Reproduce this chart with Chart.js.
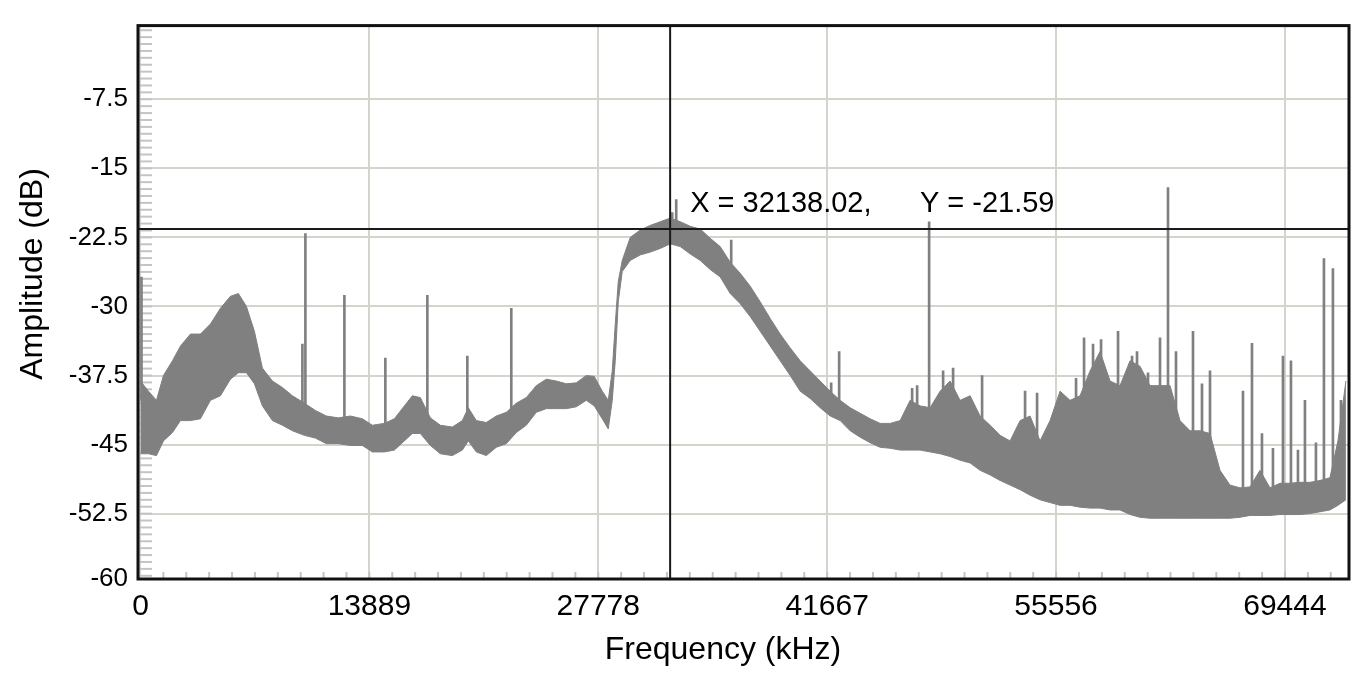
<!DOCTYPE html>
<html>
<head>
<meta charset="utf-8">
<script src="https://cdn.jsdelivr.net/npm/chart.js@4.4.1/dist/chart.umd.min.js"></script>
<style>
html,body{margin:0;padding:0;background:#fff;}
canvas{display:block;}
</style>
</head>
<body>
<canvas id="espectro" width="1372" height="678"></canvas>
<script>
// envelope of the noise band (kHz, dB)
const freq=[0,485,970,1395,1941,2426,3033,3639,4246,4852,5459,5944,6429,6914,7399,8006,8612,9219,9947,10614,
11281,12009,12736,13464,14071,14799,15405,16012,16497,16982,17589,18195,18923,19529,19893,20378,20985,21591,22198,22804,
23411,24017,24624,25230,25837,26443,27050,27535,28020,28384,28627,28809,28991,29233,29719,30325,30932,31538,32145,32751,
33358,33964,34571,35177,35784,36390,36997,37603,38210,38816,39423,40029,40636,41242,41849,42455,43062,43668,44275,44881,
45488,46094,46701,47307,47914,48520,49127,49733,50340,50946,51553,52159,52766,53372,53979,54585,55192,55798,56405,57011,
57618,58224,58831,59437,60044,60650,61257,61863,62470,63076,63683,64289,64896,65502,66109,66715,67322,67928,68535,69141,
69748,70354,70961,71567,72174,72659,73144];

const bandTop=[-38.1,-39.2,-40.2,-37.5,-35.9,-34.3,-33.0,-33.0,-31.9,-30.2,
-28.9,-28.6,-30.0,-32.7,-36.7,-38.1,-38.8,-39.7,-40.5,-41.3,
-41.9,-42.1,-41.9,-42.2,-42.9,-42.7,-42.2,-40.8,-39.7,-39.9,
-42.1,-42.9,-43.1,-42.4,-41.0,-42.4,-42.6,-41.9,-41.5,-40.5,
-39.9,-38.6,-37.9,-38.1,-38.4,-38.3,-37.5,-37.6,-39.2,-40.2,
-37.0,-31.9,-27.3,-25.0,-22.5,-21.7,-21.2,-20.8,-20.4,-20.8,
-21.3,-21.6,-22.6,-23.5,-25.2,-26.4,-27.8,-29.5,-31.3,-33.0,
-34.5,-35.9,-37.0,-38.1,-39.2,-40.2,-41.0,-41.6,-42.2,-42.7,
-42.7,-42.4,-40.2,-40.8,-41.0,-39.2,-38.1,-40.2,-39.7,-41.9,
-42.9,-44.0,-44.6,-42.4,-41.9,-44.6,-42.4,-39.2,-40.2,-39.7,
-37.0,-34.9,-38.1,-38.6,-35.9,-36.5,-38.6,-38.6,-38.6,-42.4,
-43.5,-43.5,-43.8,-47.8,-49.4,-49.7,-49.6,-47.8,-49.7,-49.2,
-49.2,-49.1,-49.1,-48.9,-48.6,-44.6,-38.1];

const bandBottom=[-46.0,-46.0,-46.2,-44.6,-43.7,-42.4,-42.4,-42.2,-40.2,-39.7,
-37.9,-37.2,-37.2,-38.4,-40.8,-42.4,-42.9,-43.5,-44.0,-44.3,
-44.9,-44.9,-45.1,-45.1,-45.8,-45.8,-45.6,-44.6,-43.8,-43.8,
-45.1,-46.0,-46.2,-45.6,-44.6,-45.8,-46.2,-45.3,-44.9,-43.7,
-42.9,-41.5,-41.1,-41.1,-41.1,-40.9,-40.2,-40.8,-42.2,-43.3,
-40.2,-35.9,-29.5,-26.2,-25.0,-24.4,-24.1,-23.7,-23.2,-23.5,
-24.3,-25.0,-26.0,-26.8,-28.6,-29.7,-31.1,-32.7,-34.3,-35.9,
-37.5,-39.2,-40.0,-41.0,-41.9,-42.4,-43.5,-44.2,-44.8,-45.3,
-45.4,-45.6,-45.6,-45.6,-45.8,-46.0,-46.3,-46.7,-47.0,-47.8,
-48.3,-48.9,-49.4,-49.9,-50.5,-51.0,-51.3,-51.6,-51.6,-51.8,
-51.9,-51.9,-52.1,-52.1,-52.6,-52.9,-53.0,-53.0,-53.0,-53.0,
-53.0,-53.0,-53.0,-53.0,-53.0,-52.9,-52.7,-52.7,-52.7,-52.6,
-52.6,-52.6,-52.5,-52.3,-52.1,-51.6,-51.0];

// narrow tones sticking out of the band
const spikeFreq=[61,9825,10007,12373,14859,17407,19833,22501,32266,32508,35844,41909,42394,46822,47125,47853,
48702,49308,51067,53675,54403,54888,56768,57254,57799,58285,59316,60165,60468,61135,61863,62348,
62833,63864,64410,64896,66897,67443,68049,68716,69323,69808,70233,70657,71324,71810,72355,72841];
const spikeTop=[-26.8,-34.1,-22.1,-28.8,-35.6,-28.8,-35.4,-30.2,-19.8,-18.4,-22.8,-38.3,-34.9,-38.9,-38.6,-20.8,
-37.0,-36.7,-37.5,-39.2,-39.4,-44.6,-37.8,-33.4,-34.1,-33.6,-32.7,-35.4,-34.9,-37.2,-33.4,-17.1,
-34.9,-32.7,-38.4,-37.0,-39.2,-34.0,-43.8,-45.4,-35.4,-35.9,-45.6,-40.2,-44.8,-24.8,-25.9,-40.2];
const spikeBase=[-40.2,-41.3,-41.3,-43.5,-44.0,-42.9,-42.4,-42.9,-21.9,-21.9,-26.2,-40.8,-41.3,-43.5,-43.5,-43.5,
-43.5,-43.5,-44.6,-47.8,-47.8,-48.9,-47.8,-47.8,-47.8,-47.8,-47.8,-47.8,-47.8,-47.8,-47.8,-47.8,
-47.8,-47.8,-48.9,-48.9,-51.0,-51.0,-51.0,-51.0,-51.0,-51.0,-51.0,-51.0,-51.0,-51.0,-51.0,-51.0];

const xTicks=[0,13889,27778,41667,55556,69444];
const yTicks=[-60,-52.5,-45,-37.5,-30,-22.5,-15,-7.5];
const xMin=-150, xMax=73330;
const yMin=-59.6, yMax=0.5;

const cursorX=32138.02;
const cursorY=-21.59;

const tituloX="Frequency (kHz)";
const tituloY="Amplitude (dB)";

const cinza="#808080";
const corGrade="#d6d3cc";
const fonte="'Liberation Sans', Arial, sans-serif";

Chart.defaults.color="#000";

const extras={
id:"extras",
beforeDatasetsDraw(chart){
const {ctx,chartArea:a,scales:{x,y}}=chart;
ctx.save();
ctx.strokeStyle="#c4c4c4";
ctx.lineWidth=2;
// minor ticks, ten per major division
const passoX=(xTicks[1]-xTicks[0])/10;
for(let v=xTicks[0];v<=xMax;v+=passoX){
let px=x.getPixelForValue(v);
if(px<a.left+3||px>a.right-3)continue;
ctx.beginPath();
ctx.moveTo(px,a.bottom);
ctx.lineTo(px,a.bottom-7);
ctx.stroke();
}
const passoY=(yTicks[2]-yTicks[1])/10;
for(let v=yTicks[0];v<=yMax;v+=passoY){
let py=y.getPixelForValue(v);
if(py<a.top+3||py>a.bottom-3)continue;
ctx.beginPath();
ctx.moveTo(a.left,py);
ctx.lineTo(a.left+14,py);
ctx.stroke();
}
ctx.restore();
},
afterDatasetsDraw(chart){
const {ctx,chartArea:a,scales:{x,y}}=chart;
const cx=x.getPixelForValue(cursorX);
const cy=y.getPixelForValue(cursorY);
ctx.save();
ctx.strokeStyle="#1a1a1a";
ctx.lineWidth=2;
ctx.beginPath();
ctx.moveTo(cx,a.top);ctx.lineTo(cx,a.bottom);
ctx.moveTo(a.left,cy);ctx.lineTo(a.right,cy);
ctx.stroke();
ctx.fillStyle="#000";
ctx.font="29px "+fonte;
ctx.textBaseline="alphabetic";
ctx.textAlign="left";
ctx.fillText("X = "+cursorX.toFixed(2)+",      Y = "+cursorY.toFixed(2),cx+20,cy-17);
// frame
ctx.strokeStyle="#111";
ctx.lineWidth=3;
ctx.strokeRect(a.left,a.top,a.right-a.left,a.bottom-a.top);
ctx.restore();
},
afterDraw(chart){
// axis titles sit a little off-centre in the original
const {ctx}=chart;
ctx.save();
ctx.fillStyle="#000";
ctx.font="32px "+fonte;
ctx.textAlign="center";
ctx.textBaseline="middle";
ctx.fillText(tituloX,723,650);
ctx.translate(33,274);
ctx.rotate(-Math.PI/2);
ctx.fillText(tituloY,0,0);
ctx.restore();
}
};

new Chart(
document.getElementById("espectro"),
{
type:"line",
data:{
datasets:[
{
label:"topo",
data:freq.map((f,i)=>({x:f,y:bandTop[i]})),
borderColor:cinza,
backgroundColor:cinza,
borderWidth:1,
pointRadius:0,
tension:0,
fill:"+1"
},
{
label:"base",
data:freq.map((f,i)=>({x:f,y:bandBottom[i]})),
borderColor:cinza,
borderWidth:1,
pointRadius:0,
tension:0,
fill:false
},
{
type:"bar",
label:"tons",
data:spikeFreq.map((f,i)=>({x:f,y:[spikeBase[i],spikeTop[i]]})),
backgroundColor:cinza,
borderWidth:0,
barThickness:2
}
]
},
options:{
responsive:false,
animation:false,
layout:{padding:{left:0,top:21,right:23,bottom:0}},
plugins:{legend:{display:false},tooltip:{enabled:false}},
scales:{
x:{
type:"linear",
min:xMin,
max:xMax,
offset:false,
afterBuildTicks:s=>{s.ticks=xTicks.map(v=>({value:v}));},
afterFit:s=>{s.height=99;},
ticks:{
font:{family:fonte,size:30},
color:"#000",
padding:10,
maxRotation:0,
autoSkip:false,
callback:v=>String(v)
},
grid:{color:corGrade,lineWidth:2,drawTicks:false,offset:false},
border:{display:false}
},
y:{
type:"linear",
min:yMin,
max:yMax,
afterBuildTicks:s=>{s.ticks=yTicks.map(v=>({value:Math.max(v,yMin)}));},
afterFit:s=>{s.width=138;},
ticks:{
font:{family:fonte,size:26},
color:"#000",
padding:10,
autoSkip:false,
callback:(v,i)=>String(yTicks[i])
},
grid:{color:corGrade,lineWidth:2,drawTicks:false},
border:{display:false}
}
}
},
plugins:[extras]
}
);
</script>
</body>
</html>
